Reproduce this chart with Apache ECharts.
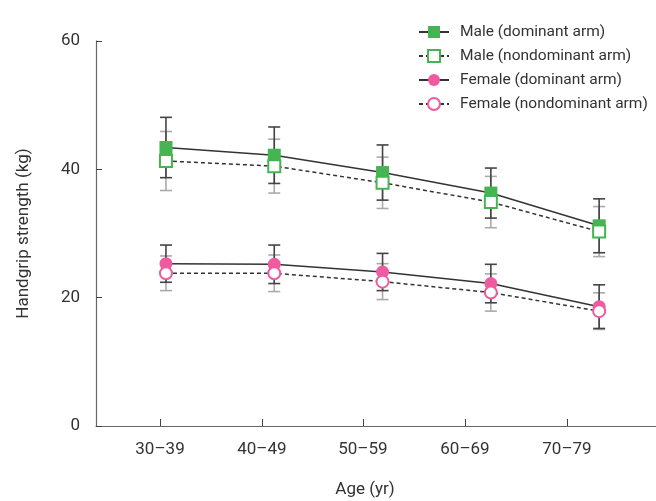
<!DOCTYPE html>
<html>
<head>
    <meta charset="utf-8">
    <title>Handgrip strength</title>
    <script src="https://cdn.jsdelivr.net/npm/echarts@6/dist/echarts.min.js"></script>
</head>
<body style="margin:0">
    <div id="main" style="width: 656px;height:501px;"></div>
    <script type="text/javascript">
        var ageGroups = ['30\u201339', '40\u201349', '50\u201359', '60\u201369', '70\u201379'];
        // where the tick marks sit, in units of the plotted points
        var tickPos = [-0.055, 0.886, 1.819, 2.761, 3.703];

        var maleDom = [43.4, 42.2, 39.5, 36.3, 31.2];
        var maleDomSD = [4.7, 4.4, 4.3, 3.9, 4.2];
        var maleNon = [41.3, 40.5, 37.9, 34.9, 30.3];
        var maleNonSD = [4.6, 4.2, 4.0, 4.0, 3.9];
        var femDom = [25.3, 25.2, 24.0, 22.2, 18.6];
        var femDomSD = [2.9, 3.0, 2.9, 3.0, 3.4];
        var femNon = [23.8, 23.8, 22.5, 20.8, 17.9];
        var femNonSD = [2.7, 2.85, 2.8, 2.9, 2.85];

        var names = ['Male (dominant arm)', 'Male (nondominant arm)', 'Female (dominant arm)', 'Female (nondominant arm)'];
        var green = '#45b553';
        var pink = '#ef5aa0';

        function pts(vals) {
            return vals.map(function (v, i) { return [i, v]; });
        }
        function bars(vals, sd) {
            return vals.map(function (v, i) { return [i, v - sd[i], v + sd[i]]; });
        }

        // error bar drawn as a vertical line with two caps
        function errorSeries(vals, sd, color) {
            return {
                type: 'custom',
                silent: true,
                z: 1,
                data: bars(vals, sd),
                renderItem: function (params, api) {
                    var lo = api.coord([api.value(0), api.value(1)]);
                    var hi = api.coord([api.value(0), api.value(2)]);
                    var w = 6;
                    var st = { stroke: color, lineWidth: 1.6 };
                    return {
                        type: 'group',
                        children: [
                            { type: 'line', shape: { x1: lo[0], y1: lo[1], x2: hi[0], y2: hi[1] }, style: st },
                            { type: 'line', shape: { x1: lo[0] - w, y1: lo[1], x2: lo[0] + w, y2: lo[1] }, style: st },
                            { type: 'line', shape: { x1: hi[0] - w, y1: hi[1], x2: hi[0] + w, y2: hi[1] }, style: st }
                        ]
                    };
                }
            };
        }

        function lineSeries(name, vals, symbol, color, dashed, z) {
            var empty = symbol.indexOf('empty') === 0;
            return {
                name: name,
                type: 'line',
                z: z,
                data: pts(vals),
                symbol: symbol,
                symbolSize: empty ? 12 : 13,
                itemStyle: {
                    color: color,
                    borderColor: color,
                    borderWidth: empty ? 1.8 : 0
                },
                lineStyle: {
                    color: '#333',
                    width: 1.5,
                    type: dashed ? [4, 3] : 'solid'
                },
                emphasis: { disabled: true }
            };
        }

        var myChart = echarts.init(document.getElementById('main'));

        var option = {
            animation: false,
            textStyle: { fontFamily: 'Roboto', color: '#333' },
            grid: { left: 96, right: 0, top: 41, bottom: 75, outerBoundsMode: 'none' },
            legend: {
                orient: 'vertical',
                left: 413,
                top: 19,
                itemWidth: 30,
                itemHeight: 15,
                itemGap: 8,
                data: names,
                textStyle: { fontSize: 15.5, color: '#333', padding: [0, 0, 0, 6] }
            },
            xAxis: {
                type: 'value',
                min: -0.646,
                max: 4.525,
                name: 'Age (yr)',
                nameLocation: 'middle',
                nameGap: 55,
                nameTextStyle: { fontSize: 17, color: '#333', padding: [0, 22, 0, 0] },
                axisLine: { lineStyle: { color: '#666', width: 1.2 } },
                axisTick: { inside: true, length: 7, customValues: tickPos, lineStyle: { color: '#444' } },
                axisLabel: {
                    customValues: tickPos,
                    fontSize: 17,
                    color: '#333',
                    margin: 15,
                    formatter: function (v) {
                        var i = tickPos.indexOf(v);
                        return i >= 0 ? ageGroups[i] : '';
                    }
                },
                splitLine: { show: false }
            },
            yAxis: {
                type: 'value',
                min: 0,
                max: 60,
                interval: 20,
                name: 'Handgrip strength (kg)',
                nameLocation: 'middle',
                nameGap: 64,
                nameTextStyle: { fontSize: 17, color: '#333' },
                axisLine: { show: true, onZero: false, lineStyle: { color: '#666', width: 1.2 } },
                axisTick: { show: true, inside: true, length: 6, lineStyle: { color: '#444' } },
                axisLabel: { fontSize: 17, color: '#333', margin: 16 },
                splitLine: { show: false }
            },
            series: [
                errorSeries(maleNon, maleNonSD, '#aaa'),
                errorSeries(femNon, femNonSD, '#aaa'),
                errorSeries(maleDom, maleDomSD, '#444'),
                errorSeries(femDom, femDomSD, '#444'),
                lineSeries(names[0], maleDom, 'rect', green, false, 3),
                lineSeries(names[1], maleNon, 'emptyRect', green, true, 4),
                lineSeries(names[2], femDom, 'circle', pink, false, 3),
                lineSeries(names[3], femNon, 'emptyCircle', pink, true, 4)
            ]
        };

        myChart.setOption(option);
    </script>
</body>
</html>
